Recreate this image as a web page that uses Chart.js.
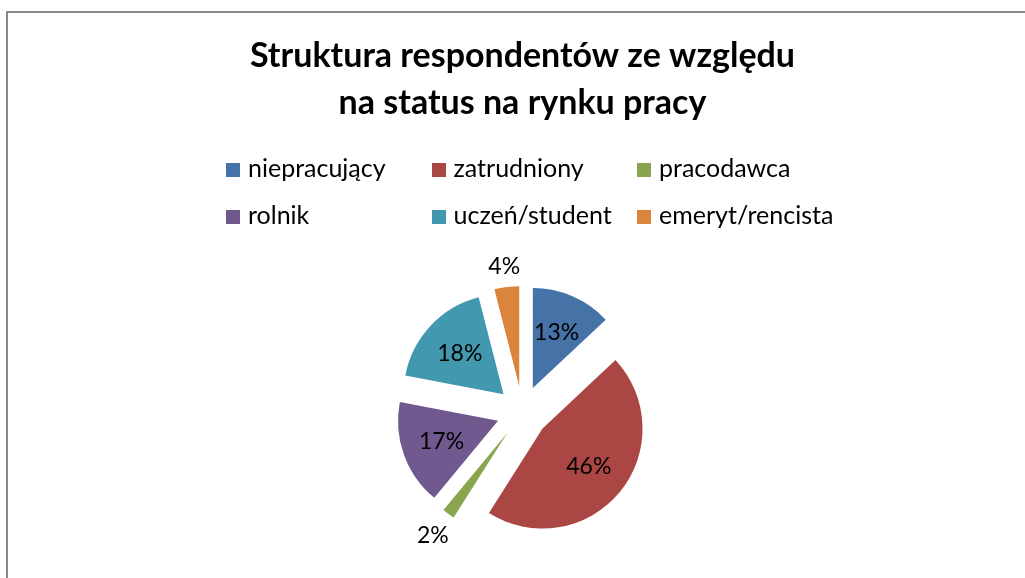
<!DOCTYPE html>
<html>
<head>
<meta charset="utf-8">
<script src="https://cdn.jsdelivr.net/npm/chart.js@4/dist/chart.umd.min.js"></script>
<style>
  body { margin: 0; background: #fff; overflow: hidden; }
  #frame { position: absolute; left: 6px; top: 11px; width: 1040px; height: 600px; border: 2px solid #898989; box-sizing: border-box; }
  #chart { position: absolute; left: 0; top: 0; }
  #legend { position: absolute; left: 226px; top: 152px; font-family: Lato, sans-serif; font-size: 25px; color: #000; }
  .item { position: absolute; white-space: nowrap; line-height: 30px; }
  .box { display: inline-block; width: 14px; height: 14px; margin-right: 8px; vertical-align: 0px; }
</style>
</head>
<body>
<div id="frame"></div>
<canvas id="chart" width="1025" height="578"></canvas>
<div id="legend"></div>
<script>
const labels = ["niepracujący", "zatrudniony", "pracodawca", "rolnik", "uczeń/student", "emeryt/rencista"]
const values = [13, 46, 2, 17, 18, 4]
const colors = ["#4572A7", "#AA4643", "#89A54E", "#71588F", "#4198AF", "#DB843D"]
const titleLines = ["Struktura respondentów ze względu", "na status na rynku pracy"]

const EXPLODE = 26 // px every slice is pulled out from the centre

// legend laid out like the Excel grid: 3 columns, 2 rows
const legend = document.getElementById("legend")
labels.forEach((name, i) => {
    const el = document.createElement("div")
    el.className = "item"
    el.style.left = (i % 3) * 205.5 + "px"
    el.style.top = Math.floor(i / 3) * 47 + "px"
    el.innerHTML = `<span class="box" style="background:${colors[i]}"></span>${name}`
    legend.appendChild(el)
})

// Chart.js "offset" also grows the radius of thin slices, so explode by hand
const explode = {
    id: "explode",
    beforeDatasetDraw(chart, args) {
        const ctx = chart.ctx
        args.meta.data.forEach(arc => {
            const mid = (arc.startAngle + arc.endAngle) / 2
            ctx.save()
            ctx.translate(Math.cos(mid) * EXPLODE, Math.sin(mid) * EXPLODE)
            arc.draw(ctx)
            ctx.restore()
        })
        return false
    }
}

// percent labels: inside for big slices, outside for small ones
const pieLabels = {
    id: "pieLabels",
    afterDatasetsDraw(chart) {
        const ctx = chart.ctx
        const meta = chart.getDatasetMeta(0)
        ctx.save()
        ctx.font = "23px Lato, sans-serif"
        ctx.fillStyle = "#000"
        ctx.textAlign = "center"
        ctx.textBaseline = "middle"
        meta.data.forEach((arc, i) => {
            const { x, y, startAngle, endAngle, outerRadius } = arc.getProps(["x", "y", "startAngle", "endAngle", "outerRadius"], true)
            const mid = (startAngle + endAngle) / 2
            const cos = Math.cos(mid), sin = Math.sin(mid)
            const text = values[i] + "%"
            let dist
            if (values[i] >= 5) {
                dist = outerRadius * 0.6
            } else {
                // half of the text box projected on the slice direction
                const w = ctx.measureText(text).width / 2 + 2
                const h = 11
                dist = outerRadius + 7 + Math.abs(w * cos) + Math.abs(h * sin)
            }
            ctx.fillText(text, x + (EXPLODE + dist) * cos, y + (EXPLODE + dist) * sin)
        })
        ctx.restore()
    }
}

new Chart(document.getElementById("chart"), {
    type: "pie",
    data: {
        labels: labels,
        datasets: [{
            data: values,
            backgroundColor: colors,
            borderWidth: 0,
            radius: 100,
        }],
    },
    options: {
        responsive: false,
        animation: false,
        events: [],
        layout: { padding: { left: 20, top: 0, right: 0, bottom: 0 } },
        plugins: {
            legend: { display: false },
            tooltip: { enabled: false },
            title: {
                display: true,
                text: titleLines,
                color: "#000",
                font: { family: "Lato, sans-serif", size: 34, weight: "bold", lineHeight: 1.373 },
                padding: { top: 33, bottom: 119.6 },
            },
        },
    },
    plugins: [explode, pieLabels],
});
</script>
</body>
</html>
